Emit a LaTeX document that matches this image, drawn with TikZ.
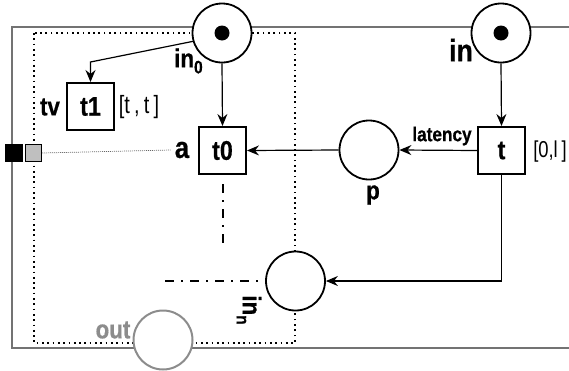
\documentclass[tikz,border=0pt]{standalone}
\usepackage{fontspec}
\setmainfont{Liberation Sans}
\newfontfamily\nar[FakeStretch=0.86,FakeBold=0.6]{Liberation Sans}
\newfontfamily\narr[FakeStretch=0.8]{Liberation Sans}
\usetikzlibrary{arrows.meta}
\begin{document}
\begin{tikzpicture}[x=1pt,y=-1pt,
  trans/.style={draw, line width=2pt, fill=white, minimum size=47pt, inner sep=0pt,
    font=\nar\bfseries\fontsize{27}{27}\selectfont},
  place/.style={draw, circle, line width=1.8pt, minimum size=59pt, inner sep=0pt, fill=white},
  grayplace/.style={place, draw=black!45, line width=2pt},
  arc/.style={line width=1.2pt, -{Stealth[length=12pt,width=10pt,inset=4pt]}},
  lbl/.style={inner sep=0pt, font=\nar\bfseries\fontsize{26}{26}\selectfont},
  rng/.style={inner sep=0pt, font=\narr\fontsize{25}{25}\selectfont},
  outer/.style={draw=black!55, line width=1.5pt},
  dotbox/.style={line width=1.7pt, dash pattern=on 1.7pt off 3.6pt},
  dashdot/.style={line width=2pt, dash pattern=on 9pt off 7pt on 2pt off 7pt},
  token/.style={circle, fill=black, minimum size=15pt, inner sep=0pt}
]
\useasboundingbox (0,0) rectangle (569,370);

% outer (gray) boundary, open on the right
\coordinate (otr) at (569,27);
\coordinate (otl) at (12,27);
\coordinate (obl) at (12,348);
\coordinate (obr) at (569,348);
\draw[outer] (otr) -- (otl) -- (obl) -- (obr);

% dotted inner boundary
\coordinate (dtl) at (34,33);
\coordinate (dbr) at (295,343);
\draw[dotbox] (dtl) rectangle (dbr);

% interface squares
\node[draw, line width=1.2pt, fill=black, minimum width=16pt, minimum height=17pt, inner sep=0pt] (sqb) at (14,153) {};
\node[draw, line width=1.5pt, fill=black!25, minimum width=16pt, minimum height=17pt, inner sep=0pt] (sqg) at (33.5,153) {};

% nodes
\node[place] (in0) at (222,33) {};
\node[token] (tok0) at (in0.center) {};
\node[place] (in) at (501,33) {};
\node[token] (tok1) at (in.center) {};
\node[place] (p) at (369,150) {};
\node[place] (inn) at (295.5,281) {};
\node[grayplace] (out) at (163,340) {};

\node[trans] (t1) at (90.5,106.5) {t1};
\node[trans] (t0) at (222.5,150.5) {t0};
\node[trans] (t) at (501.5,150.5) {t};

% labels
\node[lbl] (ltv) at (50,107) {tv};
\node[rng] (ltt) at (139,107) {[t\,,\,t\,]};
\node[lbl, anchor=west] (lin0) at (174,61) {in\raisebox{-6pt}{\fontsize{18}{18}\selectfont 0}};
\node[lbl, font=\nar\bfseries\fontsize{30}{30}\selectfont] (la) at (182,150) {a};
\node[lbl, font=\nar\bfseries\fontsize{31}{31}\selectfont] (lin) at (461,50) {in};
\node[lbl, font=\nar\bfseries\fontsize{20}{20}\selectfont] (llat) at (442,136) {latency};
\node[rng, font=\narr\fontsize{23}{23}\selectfont] (lrng) at (550,152) {[0,l\,]};
\node[lbl] (lp) at (373,195) {p};
\node[lbl, text=black!45] (lout) at (113,330) {out};
\node[lbl, rotate=-90] (linn) at (249,310) {in\raisebox{-6pt}{\fontsize{18}{18}\selectfont n}};

% thin dotted link from interface square to label a
\draw[line width=0.7pt, black!60, dash pattern=on 1pt off 1pt] (sqg.east) -- ([xshift=-4pt]la.west);

% arcs
\coordinate (bend) at (90.5,62);
\draw[arc] (in0.196) -- (bend) -- (t1.north);
\draw[arc] (in0.south) -- (t0.north);
\draw[arc] (in.south) -- (t.north);
\draw[arc] (t.west) -- (p.east);
\draw[arc] (p.west) -- (t0.east);
\draw[arc] (t.south) |- (inn.east);

% dash-dot continuations
\coordinate (dv) at (222.5,243);
\draw[dashdot] ([yshift=-9pt]t0.south) -- (dv);
\coordinate (dh) at (165,281);
\draw[dashdot] (dh) -- ([xshift=-5pt]inn.west);
\end{tikzpicture}
\end{document}
